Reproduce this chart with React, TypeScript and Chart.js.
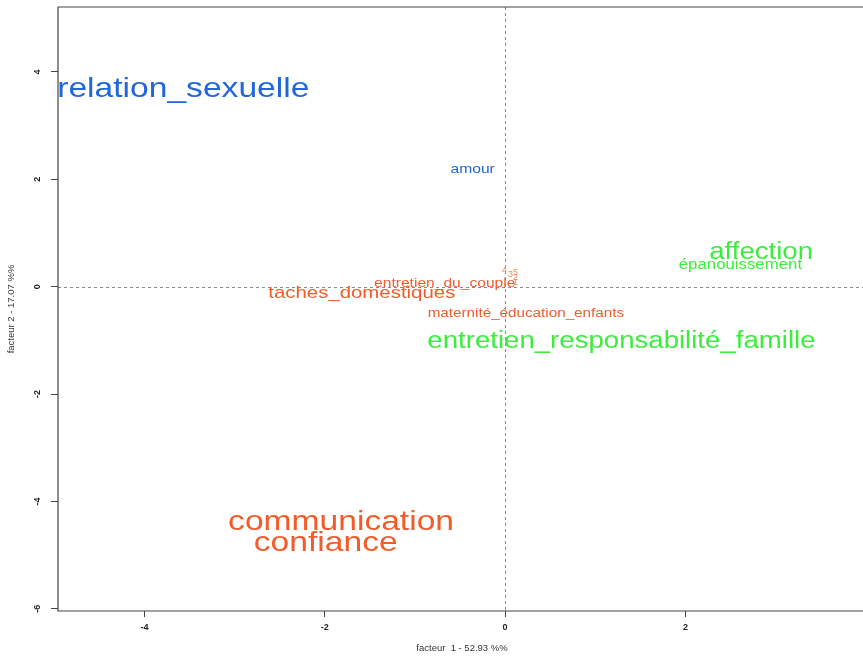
import React, { useEffect, useRef } from "react";
import { Chart, registerables } from "chart.js";

Chart.register(...registerables);

// ---- data ----
const blueLabels = ["relation_sexuelle", "amour"];
const blueX = [-3.57, -0.36];
const blueY = [3.67, 2.18];

const orangeLabels = [
  "entretien_du_couple",
  "taches_domestiques",
  "maternité_éducation_enfants",
  "communication",
  "confiance",
];
const orangeX = [-0.67, -1.59, 0.23, -1.82, -1.99];
const orangeY = [0.07, -0.13, -0.5, -4.38, -4.77];

const greenLabels = ["affection", "épanouissement", "entretien_responsabilité_famille"];
const greenX = [2.84, 2.61, 1.29];
const greenY = [0.63, 0.4, -1.03];

const classLabels = ["4", "3", "5", "2", "1"];
const classX = [-0.01, 0.06, 0.115, 0.115, 0.115];
const classY = [0.3, 0.22, 0.27, 0.17, 0.08];

const xTicks = [-4, -2, 0, 2];
const yTicks = [-6, -4, -2, 0, 2, 4];

const xTitle = "facteur  1 - 52.93 %%";
const yTitle = "facteur 2 - 17.07 %%";

// ---- styles ----
const BLUE = "#2266DD";
const ORANGE = "#F25C2A";
const GREEN = "#3CEE3C";
const CLASS_COLOR = "#F28A50";
const blueSizes = [28, 13];
const orangeSizes = [13, 17, 12.7, 28, 28];
const greenSizes = [23, 14, 23];
const classSizes = [9, 9, 9, 9, 9];
const FONT = '"Liberation Sans", Arial, sans-serif';
const STRETCH = 1.2;

const mk = (xs: number[], ys: number[]) => xs.map((x, i) => ({ x, y: ys[i] }));

export default function App() {
  const ref = useRef<HTMLCanvasElement | null>(null);

  useEffect(() => {
    document.body.style.margin = "0";
    const canvas = ref.current!;
    const groups = [
      { labels: blueLabels, sizes: blueSizes, color: BLUE, stretch: STRETCH },
      { labels: orangeLabels, sizes: orangeSizes, color: ORANGE, stretch: STRETCH },
      { labels: greenLabels, sizes: greenSizes, color: GREEN, stretch: STRETCH },
      { labels: classLabels, sizes: classSizes, color: CLASS_COLOR, stretch: 1 },
    ];

    const plugin = {
      id: "rtext",
      beforeDatasetsDraw(chart: any) {
        const { ctx, chartArea: a, scales } = chart;
        ctx.save();
        ctx.strokeStyle = "#8a8a8a";
        ctx.lineWidth = 1;
        ctx.setLineDash([3, 3]);
        const x0 = Math.round(scales.x.getPixelForValue(0)) + 0.5;
        const y0 = Math.round(scales.y.getPixelForValue(0)) + 0.5;
        ctx.beginPath();
        ctx.moveTo(x0, a.top);
        ctx.lineTo(x0, a.bottom);
        ctx.moveTo(a.left, y0);
        ctx.lineTo(a.right, y0);
        ctx.stroke();
        ctx.restore();
      },
      afterDatasetsDraw(chart: any) {
        const ctx = chart.ctx;
        groups.forEach((g, di) => {
          const meta = chart.getDatasetMeta(di);
          meta.data.forEach((el: any, i: number) => {
            ctx.save();
            ctx.translate(el.x, el.y);
            ctx.scale(g.stretch, 1);
            ctx.font = `${g.sizes[i]}px ${FONT}`;
            ctx.fillStyle = g.color;
            ctx.textAlign = "center";
            ctx.textBaseline = "middle";
            ctx.fillText(g.labels[i], 0, 0);
            ctx.restore();
          });
        });
      },
      afterDraw(chart: any) {
        const { ctx, chartArea: a, scales } = chart;
        ctx.save();
        // box (top, left, bottom)
        ctx.strokeStyle = "#444";
        ctx.lineWidth = 1.2;
        ctx.setLineDash([]);
        ctx.beginPath();
        ctx.moveTo(a.right + 2, a.top);
        ctx.lineTo(a.left, a.top);
        ctx.lineTo(a.left, a.bottom);
        ctx.lineTo(a.right + 2, a.bottom);
        ctx.stroke();
        // tick labels
        ctx.fillStyle = "#222";
        ctx.font = `bold 9px ${FONT}`;
        ctx.textAlign = "center";
        ctx.textBaseline = "middle";
        scales.x.ticks.forEach((t: any) => {
          const px = scales.x.getPixelForValue(t.value);
          ctx.fillText(String(t.value), px, a.bottom + 17);
        });
        scales.y.ticks.forEach((t: any) => {
          const py = scales.y.getPixelForValue(t.value);
          ctx.save();
          ctx.translate(a.left - 20, py);
          ctx.rotate(-Math.PI / 2);
          ctx.fillText(String(t.value), 0, 0);
          ctx.restore();
        });
        // axis titles
        ctx.font = `9.5px ${FONT}`;
        ctx.fillStyle = "#333";
        ctx.fillText(xTitle, 462, 648);
        ctx.save();
        ctx.translate(11, (a.top + a.bottom) / 2);
        ctx.rotate(-Math.PI / 2);
        ctx.fillText(yTitle, 0, 0);
        ctx.restore();
        ctx.restore();
      },
    };

    const chart = new Chart(canvas, {
      type: "scatter",
      data: {
        datasets: [
          { data: mk(blueX, blueY), pointRadius: 0 },
          { data: mk(orangeX, orangeY), pointRadius: 0 },
          { data: mk(greenX, greenY), pointRadius: 0 },
          { data: mk(classX, classY), pointRadius: 0 },
        ],
      },
      options: {
        animation: false,
        responsive: false,
        events: [],
        layout: { padding: { top: 7, left: 0, right: 0, bottom: 0 } },
        plugins: { legend: { display: false }, tooltip: { enabled: false } },
        scales: {
          x: {
            type: "linear",
            min: -4.96,
            max: 3.97,
            afterBuildTicks: (s: any) => {
              s.ticks = xTicks.map((v) => ({ value: v }));
            },
            afterFit: (s: any) => {
              s.height = 45;
            },
            grid: { drawOnChartArea: false, drawTicks: true, tickLength: 6, tickColor: "#444", lineWidth: 1 },
            border: { display: false },
            ticks: { display: false },
          },
          y: {
            type: "linear",
            min: -6.04,
            max: 5.21,
            afterBuildTicks: (s: any) => {
              s.ticks = yTicks.map((v) => ({ value: v }));
            },
            afterFit: (s: any) => {
              s.width = 58;
            },
            grid: { drawOnChartArea: false, drawTicks: true, tickLength: 7, tickColor: "#444", lineWidth: 1 },
            border: { display: false },
            ticks: { display: false },
          },
        },
      },
      plugins: [plugin],
    } as any);
    return () => chart.destroy();
  }, []);

  return (
    <canvas ref={ref} width={863} height={656} style={{ display: "block", width: 863, height: 656 }} />
  );
}
